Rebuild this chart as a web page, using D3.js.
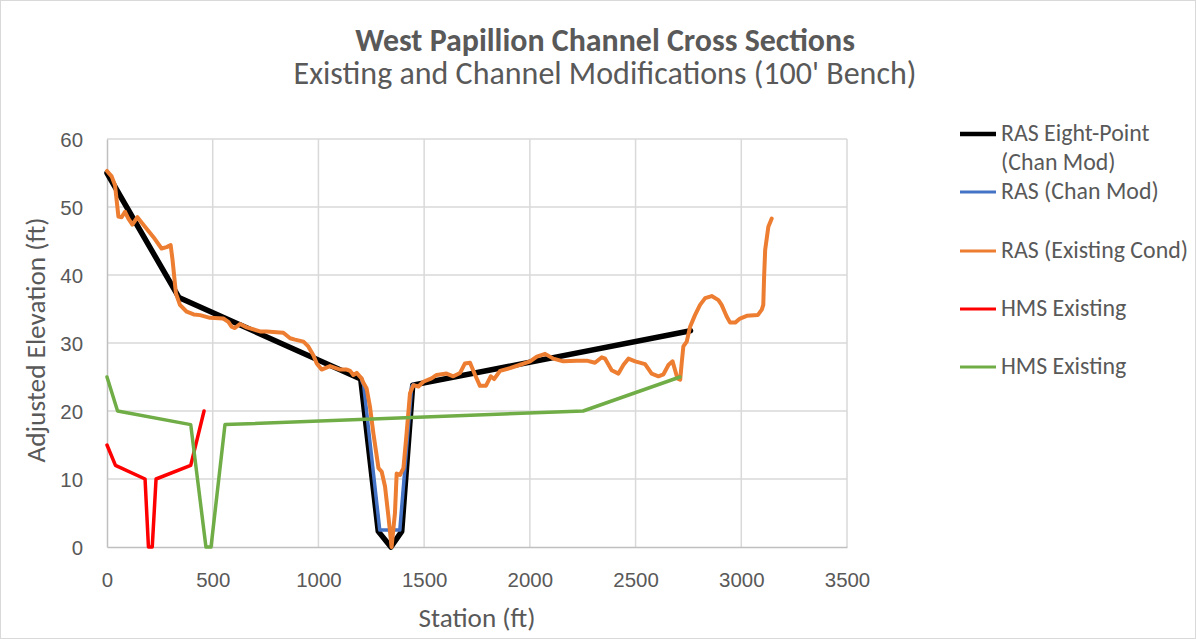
<!DOCTYPE html>
<html>
<head>
<meta charset="utf-8">
<script src="https://cdn.jsdelivr.net/npm/d3@7"></script>
<style>
  body { margin: 0; background: #fff; }
  svg { display: block; font-family: Calibri, Carlito, Lato, "Open Sans", sans-serif; }
  .tick text, .legend-text, .axis-title, .title, .subtitle { fill: #595959; }
</style>
</head>
<body>
<div id="chart"></div>
<script>
// ---------- DATA ----------
// each series is a list of [station (ft), elevation (ft)]
const RAS_EIGHT_POINT = [
  [0, 55], [340, 36.7], [1200, 24.7], [1283, 2.3], [1343, 0], [1394, 2.3], [1446, 23.8], [2760, 31.8]
];

// only the channel part shows out from under the other lines
const RAS_CHAN_MOD = [
  [1206, 24.4], [1214, 23.8], [1290, 2.5], [1385, 2.5], [1441, 23.6], [1450, 23.9]
];

const RAS_EXISTING = [
  [0, 55.3], [22, 54.5], [38, 53.2], [54, 48.6], [69, 48.5], [85, 49.3], [101, 48.3], [120, 47.4],
  [144, 48.5], [172, 47.4], [219, 45.6], [258, 43.9], [282, 44.1], [301, 44.4], [310, 42.2], [326, 37.3],
  [345, 35.6], [377, 34.6], [410, 34.2], [440, 34.1], [487, 33.7], [550, 33.6], [574, 33.1], [589, 32.4],
  [605, 32.2], [629, 32.8], [661, 32.3], [724, 31.7], [755, 31.7], [834, 31.5], [866, 30.7], [889, 30.5],
  [929, 30.2], [952, 29.5], [976, 28.2], [992, 27], [1015, 26.1], [1055, 26.6], [1102, 26.1], [1134, 26.1],
  [1150, 25.9], [1165, 25.3], [1181, 25.6], [1204, 24.8], [1212, 24.2], [1228, 23.3], [1244, 20.6],
  [1260, 16.7], [1284, 11.6], [1299, 11.1], [1315, 8.9], [1331, 4.5], [1346, 0], [1362, 5], [1370, 10.8],
  [1386, 10.6], [1402, 11.6], [1417, 16.7], [1433, 22.6], [1449, 23.8], [1473, 23.6], [1496, 24.3],
  [1535, 24.8], [1559, 25.3], [1606, 25.5], [1638, 25.1], [1670, 25.6], [1693, 27], [1717, 27.1],
  [1741, 25.3], [1764, 23.7], [1792, 23.7], [1815, 25.1], [1831, 24.7], [1859, 25.9], [1906, 26.3],
  [1954, 26.8], [2001, 27.3], [2033, 28], [2072, 28.4], [2111, 27.7], [2158, 27.3], [2222, 27.4],
  [2269, 27.4], [2308, 27.1], [2340, 27.9], [2356, 27.7], [2387, 26], [2419, 25.5], [2443, 26.8],
  [2466, 27.7], [2498, 27.3], [2545, 26.9], [2576, 25.5], [2608, 25.1], [2632, 25.4], [2656, 26.8],
  [2675, 27.3], [2687, 26], [2698, 24.8], [2711, 24.6], [2718, 27], [2726, 29.5], [2742, 30.2],
  [2758, 32.4], [2781, 34.1], [2805, 35.6], [2829, 36.6], [2860, 36.9], [2892, 36.3], [2907, 35.6],
  [2931, 33.9], [2947, 33], [2971, 33], [2994, 33.6], [3026, 34], [3078, 34.1], [3097, 34.9],
  [3104, 35.6], [3108, 39.8], [3113, 43.7], [3128, 47.1], [3144, 48.3]
];

const HMS_RED = [
  [0, 15], [40, 12], [180, 10], [196, 0], [214, 0], [232, 10], [396, 12], [459, 20]
];

const HMS_GREEN = [
  [0, 25], [50, 20], [396, 18], [468, 0], [492, 0], [558, 18], [2252, 20], [2710, 25]
];

const X_TICKS = [0, 500, 1000, 1500, 2000, 2500, 3000, 3500];
const Y_TICKS = [0, 10, 20, 30, 40, 50, 60];

// legend order = draw order
const SERIES = [
  { name: ["RAS Eight-Point", "(Chan Mod)"], data: RAS_EIGHT_POINT, color: "#000000", width: 5.5, legendWidth: 4.5 },
  { name: ["RAS (Chan Mod)"], data: RAS_CHAN_MOD, color: "#4472C4", width: 3.5, legendWidth: 3 },
  { name: ["RAS (Existing Cond)"], data: RAS_EXISTING, color: "#ED7D31", width: 4, legendWidth: 3 },
  { name: ["HMS Existing"], data: HMS_RED, color: "#FF0000", width: 3.5, legendWidth: 3 },
  { name: ["HMS Existing"], data: HMS_GREEN, color: "#70AD47", width: 3.5, legendWidth: 3 }
];

// ---------- SCAFFOLD ----------
const width = 1196, height = 639;
const plot = { left: 107, right: 847, top: 139, bottom: 547 };

const svg = d3.select("#chart").append("svg")
  .attr("width", width)
  .attr("height", height);

// chart border
svg.append("rect")
  .attr("x", 0.5).attr("y", 0.5)
  .attr("width", width - 1).attr("height", height - 1)
  .attr("fill", "none")
  .attr("stroke", "#d9d9d9");

const x = d3.scaleLinear().domain([0, 3500]).range([plot.left, plot.right]);
const y = d3.scaleLinear().domain([0, 60]).range([plot.bottom, plot.top]);

// scale a text's font size so it spans the target width
function fitWidth(sel, target) {
  const base = parseFloat(sel.attr("font-size"));
  const len = sel.node().getComputedTextLength();
  sel.attr("font-size", base * target / len);
}

// ---------- GRID ----------
svg.append("g")
  .selectAll("line")
  .data(Y_TICKS.filter(d => d > 0))
  .join("line")
  .attr("x1", plot.left).attr("x2", plot.right)
  .attr("y1", d => y(d)).attr("y2", d => y(d))
  .attr("stroke", "#d9d9d9")
  .attr("stroke-width", 1.5);

svg.append("g")
  .selectAll("line")
  .data(X_TICKS.filter(d => d > 0))
  .join("line")
  .attr("x1", d => x(d)).attr("x2", d => x(d))
  .attr("y1", plot.top).attr("y2", plot.bottom)
  .attr("stroke", "#d9d9d9")
  .attr("stroke-width", 1.5);

// ---------- AXES ----------
const xAxis = svg.append("g")
  .attr("transform", `translate(0,${plot.bottom})`)
  .call(d3.axisBottom(x).tickValues(X_TICKS).tickSize(0).tickFormat(d3.format("d")));
xAxis.select(".domain").attr("stroke", "#bfbfbf").attr("stroke-width", 1.5);
xAxis.selectAll("text")
  .attr("font-size", 20)
  .attr("dy", 0)
  .attr("y", 40);

const yAxis = svg.append("g")
  .attr("transform", `translate(${plot.left},0)`)
  .call(d3.axisLeft(y).tickValues(Y_TICKS).tickSize(0));
yAxis.select(".domain").attr("stroke", "#bfbfbf").attr("stroke-width", 1.5);
yAxis.selectAll("text")
  .attr("font-size", 20)
  .attr("x", -24)
  .attr("dy", "0.36em");

// fit tick size on the "1000" label (about 46px wide in the reference)
const sample = xAxis.selectAll("text").filter(d => d === 1000);
fitWidth(sample, 45.5);
const tickSize = sample.attr("font-size");
svg.selectAll(".tick text").attr("font-size", tickSize).attr("font-family", null);

// ---------- LINES ----------
const line = d3.line()
  .x(d => x(d[0]))
  .y(d => y(d[1]));

svg.append("g")
  .selectAll("path")
  .data(SERIES)
  .join("path")
  .attr("d", d => line(d.data))
  .attr("fill", "none")
  .attr("stroke", d => d.color)
  .attr("stroke-width", d => d.width)
  .attr("stroke-linejoin", "round")
  .attr("stroke-linecap", "round");

// ---------- TITLES ----------
const title = svg.append("text")
  .attr("class", "title")
  .attr("x", 605).attr("y", 51)
  .attr("text-anchor", "middle")
  .attr("font-size", 26)
  .attr("font-weight", "bold")
  .text("West Papillion Channel Cross Sections");
fitWidth(title, 500);

const subtitle = svg.append("text")
  .attr("class", "subtitle")
  .attr("x", 605).attr("y", 84)
  .attr("text-anchor", "middle")
  .attr("font-size", 28)
  .text("Existing and Channel Modifications (100' Bench)");
fitWidth(subtitle, 623);

const xTitle = svg.append("text")
  .attr("class", "axis-title")
  .attr("x", 477).attr("y", 627)
  .attr("text-anchor", "middle")
  .attr("font-size", 22)
  .text("Station (ft)");
fitWidth(xTitle, 117);

const yTitle = svg.append("text")
  .attr("class", "axis-title")
  .attr("transform", "translate(45,340) rotate(-90)")
  .attr("text-anchor", "middle")
  .attr("font-size", 22)
  .text("Adjusted Elevation (ft)");
fitWidth(yTitle, 245);

// ---------- LEGEND ----------
const LEGEND_Y = [134, 192, 251, 309, 367];
const legend = svg.append("g")
  .selectAll("g")
  .data(SERIES)
  .join("g")
  .attr("transform", (d, i) => `translate(960,${LEGEND_Y[i]})`);

legend.append("line")
  .attr("x1", 0).attr("x2", 36)
  .attr("stroke", d => d.color)
  .attr("stroke-width", d => d.legendWidth);

const legendText = legend.append("text")
  .attr("class", "legend-text")
  .attr("x", 41)
  .attr("y", 7)
  .attr("font-size", 20);
legendText.selectAll("tspan")
  .data(d => d.name)
  .join("tspan")
  .attr("x", 41)
  .attr("dy", (d, i) => i === 0 ? 0 : 29)
  .text(d => d);

// legend size from "RAS (Existing Cond)" (about 187px wide)
const legSample = legendText.filter((d, i) => i === 2);
fitWidth(legSample, 187);
legendText.attr("font-size", legSample.attr("font-size"));
</script>
</body>
</html>
